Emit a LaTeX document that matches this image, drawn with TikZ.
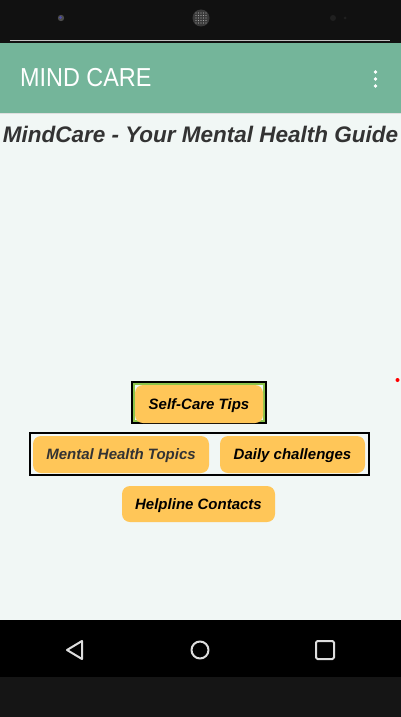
\documentclass[tikz,border=0pt]{standalone}
\usepackage{fontspec}
\setmainfont{Liberation Sans}
\definecolor{topbar}{HTML}{111111}
\definecolor{appbar}{HTML}{74B59A}
\definecolor{content}{HTML}{F1F7F5}
\definecolor{btn}{HTML}{FFC658}
\definecolor{greenedge}{HTML}{8BC34A}
\definecolor{titlegrey}{HTML}{333333}
\definecolor{navicon}{HTML}{DDDDDD}
\definecolor{bottombar}{HTML}{151515}
\tikzset{
  btnbox/.style={fill=btn, rounded corners=8pt, inner sep=0pt, minimum height=37pt,
    text height=10.8pt, text depth=0pt,
    font=\fontsize{15}{17}\selectfont\bfseries\itshape},
  framebox/.style={draw=black, line width=2pt},
  navline/.style={draw=navicon, line width=2pt, line join=round, line cap=round},
}
\begin{document}
\begin{tikzpicture}[x=1pt,y=-1pt]
\useasboundingbox (0,0) rectangle (401,717);
% top status area
\fill[topbar] (0,0) rectangle (401,43);
\draw[gray!50, line width=0.6pt] (10,40.5) -- (390,40.5);
\fill[gray!60!black] (61,18) circle (3.2pt);
\fill[blue!40!gray] (60.5,17.5) circle (1.4pt);
\fill[gray!45!black] (201,18) circle (8.5pt);
\foreach \dx in {-5,-2.5,0,2.5,5} \foreach \dy in {-5,-2.5,0,2.5,5}
  \fill[gray!70] (201+\dx,18+\dy) circle (0.7pt);
\fill[gray!25!black] (333,18) circle (3pt);
\fill[gray!25!black] (345,18) circle (1.5pt);
% app bar
\fill[appbar] (0,43) rectangle (401,113);
\node[anchor=west, text=white, font=\fontsize{26}{28}\selectfont, xscale=0.9, inner sep=0pt] (apptitle) at (20,78) {MIND CARE};
\foreach \yy in {72,79,86} \fill[white] (375.5,\yy) circle (1.8pt);
% content
\fill[content] (0,113) rectangle (401,620);
\draw[gray!25, line width=1pt] (0,113.5) -- (401,113.5);
\node[text=titlegrey, font=\fontsize{22.5}{25}\selectfont\bfseries\itshape, inner sep=0pt] (title) at (200.5,134) {MindCare - Your Mental Health Guide};
% self-care frame
\draw[framebox] (132,382) rectangle (266,423);
\draw[greenedge, line width=1.5pt] (134,384) rectangle (264,421);
\node[btnbox, minimum width=128pt, minimum height=38pt] (selfcare) at (199,404) {Self-Care Tips};
% row frame
\draw[framebox] (30,433) rectangle (369,475);
\node[btnbox, minimum width=176pt, text=titlegrey] (topics) at (121,454.5) {Mental Health Topics};
\node[btnbox, minimum width=145pt] (daily) at (292.5,454.5) {Daily challenges};
% helpline
\node[btnbox, minimum width=153pt, minimum height=36pt] (helpline) at (198.5,504) {Helpline Contacts};
% red dot
\fill[red] (397.5,380) circle (2pt);
% nav bar
\fill[black] (0,620) rectangle (401,677);
\draw[navline] (82,641) -- (67,650) -- (82,659) -- cycle;
\draw[navline] (200,650) circle (8.5pt);
\draw[navline, rounded corners=1.5pt] (316,641) rectangle (334,659);
\fill[bottombar] (0,677) rectangle (401,717);
\end{tikzpicture}
\end{document}
